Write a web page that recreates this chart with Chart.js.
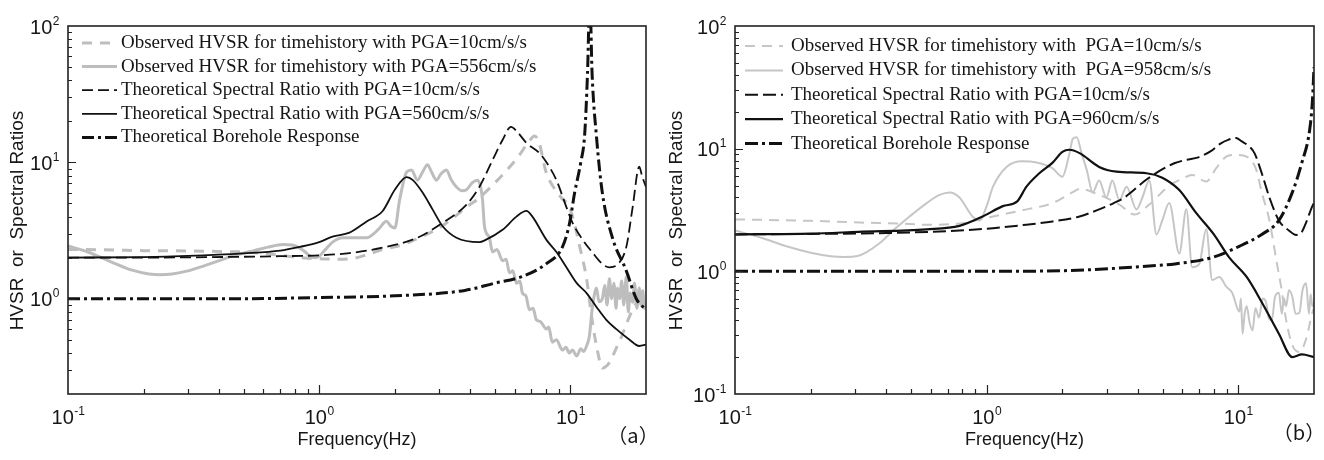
<!DOCTYPE html>
<html>
<head>
<meta charset="utf-8">
<script src="https://cdn.jsdelivr.net/npm/chart.js@4.4.0/dist/chart.umd.min.js"></script>
<style>
  body { margin: 0; background: #fff; }
  .wrap { display: flex; width: 1324px; height: 460px; }
  canvas { display: block; }
</style>
</head>
<body>
<div class="wrap">
  <canvas id="chartA" width="662" height="460"></canvas>
  <canvas id="chartB" width="662" height="460"></canvas>
</div>
<script>
// ---- tick labels (powers of ten) ----
const xTickExp = [-1, 0, 1];
const yTickExpA = [0, 1, 2];
const yTickExpB = [-1, 0, 1, 2];
const mantissas = [1, 2, 3, 4, 5, 6, 7, 8, 9];

// ---- panel (a) ----
const labelsA = [
  "Observed HVSR for timehistory with PGA=10cm/s/s",
  "Observed HVSR for timehistory with PGA=556cm/s/s",
  "Theoretical Spectral Ratio with PGA=10cm/s/s",
  "Theoretical Spectral Ratio with PGA=560cm/s/s",
  "Theoretical Borehole Response",
];
const aObs10F = [0.1, 0.15, 0.2, 0.3, 0.4, 0.5, 0.6, 0.7, 0.8, 0.9, 1.0, 1.15, 1.32, 1.55, 1.79, 2.0, 2.29, 2.6, 3.0, 3.4, 3.86, 4.34, 4.9, 5.5, 6.2, 6.8, 7.2, 7.5, 8.0, 8.6, 9.2, 9.9, 10.4, 10.9, 11.6, 12.2, 12.8, 13.4, 14.3, 15.2, 16.0, 16.7, 17.8, 18.8, 20];
const aObs10V = [2.3, 2.28, 2.25, 2.24, 2.22, 2.2, 2.15, 2.08, 2.02, 1.98, 1.96, 1.95, 1.96, 2.1, 2.3, 2.4, 2.6, 2.9, 3.3, 3.9, 4.7, 5.5, 6.8, 8.5, 11, 14, 15.6, 14, 8.5, 6.5, 5.5, 4.7, 3.5, 2.4, 1.4, 0.7, 0.42, 0.31, 0.34, 0.43, 0.53, 0.65, 0.85, 1.0, 1.1];
const aObs556F = [0.1, 0.12, 0.15, 0.18, 0.21, 0.232, 0.26, 0.3, 0.35, 0.4, 0.45, 0.5, 0.55, 0.62, 0.72, 0.78, 0.837, 0.88, 0.917, 0.96, 1.0, 1.06, 1.13, 1.24, 1.4, 1.55, 1.65, 1.74, 1.85, 1.93, 2.0, 2.09, 2.23, 2.33, 2.46, 2.58, 2.7, 2.8, 2.93, 3.05, 3.21, 3.35, 3.52, 3.7, 3.86, 4.07, 4.27, 4.4, 4.47, 4.55, 4.76, 4.9, 5.1, 5.37, 5.55, 5.72, 5.9, 6.1, 6.3, 6.44, 6.65, 6.87, 7.1, 7.32, 7.6, 8.03, 8.2, 8.47, 8.8, 9.29, 9.6, 9.9, 10.2, 10.6, 11.0, 11.3, 11.6, 11.9, 12.2, 12.5, 12.7, 13.0, 13.4, 13.7, 14.0, 14.3, 14.6, 14.9, 15.2, 15.4, 15.7, 16.0, 16.3, 16.7, 17.0, 17.3, 17.7, 18.0, 18.4, 18.8, 19.1, 19.4, 19.7, 20];
const aObs556V = [2.44, 2.2, 1.85, 1.62, 1.52, 1.5, 1.52, 1.6, 1.75, 1.9, 2.05, 2.16, 2.25, 2.38, 2.5, 2.48, 2.35, 2.2, 2.05, 2.0, 2.05, 2.3, 2.6, 2.8, 2.8, 2.8, 3.0, 3.3, 3.7, 3.4, 3.3, 5.3, 8.5, 8.8, 7.4, 8.5, 9.6, 8.5, 7.4, 8.2, 8.8, 7.5, 6.6, 6.2, 6.3, 7.1, 7.4, 6.5, 5.3, 3.4, 2.8, 2.2, 2.3, 1.9, 1.95, 1.55, 1.6, 1.3, 1.35, 1.1, 1.05, 0.83, 0.85, 0.7, 0.68, 0.6, 0.62, 0.48, 0.5, 0.42, 0.44, 0.4, 0.42, 0.38, 0.43, 0.41, 0.45, 0.53, 0.83, 1.1, 1.2, 0.95, 1.0, 1.25, 0.9, 1.4, 1.0, 1.3, 0.85, 1.2, 1.0, 1.35, 0.9, 1.45, 0.8, 1.1, 0.94, 1.3, 0.85, 1.2, 0.9, 1.15, 0.85, 0.94];
const aTsr10F = [0.1, 0.2, 0.3, 0.5, 0.7, 1.0, 1.32, 1.79, 2.46, 3.1, 3.86, 4.34, 4.9, 5.37, 5.8, 6.15, 6.68, 7.53, 8.03, 8.8, 9.64, 10.2, 11.2, 12.2, 13.4, 14.3, 15.4, 16.7, 17.7, 18.8, 19.3, 20];
const aTsr10V = [2.0, 2.0, 2.01, 2.03, 2.05, 2.08, 2.16, 2.37, 2.8, 3.6, 4.9, 6.6, 10.4, 14.6, 18.2, 16.7, 13.9, 11.7, 10, 7.4, 4.7, 3.6, 2.7, 2.2, 1.8, 1.7, 1.78, 2.4, 4.7, 9.3, 7.9, 6.6];
const aTsr560F = [0.1, 0.2, 0.3, 0.5, 0.7, 0.84, 1.0, 1.13, 1.32, 1.55, 1.79, 2.0, 2.23, 2.36, 2.58, 2.83, 3.1, 3.52, 4.34, 4.6, 5.37, 6.1, 6.68, 7.06, 8.03, 8.8, 9.64, 10.6, 11.6, 12.7, 13.9, 15.2, 17.2, 18.8, 20];
const aTsr560V = [2.0, 2.02, 2.06, 2.15, 2.25, 2.4, 2.6, 2.85, 3.05, 3.7, 4.4, 6.3, 7.8, 7.4, 6.0, 4.5, 3.4, 2.8, 2.6, 2.7, 3.2, 4.0, 4.4, 4.0, 2.7, 2.2, 1.7, 1.3, 1.1, 0.87, 0.7, 0.6, 0.5, 0.45, 0.46];
const aBoreF = [0.1, 0.3, 0.5, 1.0, 2.0, 3.8, 5.0, 6.4, 8.0, 9.3, 9.9, 10.4, 11.0, 11.4, 11.7, 11.95, 12.2, 12.7, 13.4, 14.7, 16.7, 18.3, 20];
const aBoreV = [1.0, 1.0, 1.0, 1.02, 1.05, 1.15, 1.3, 1.45, 1.8, 2.4, 3.5, 6.0, 10, 16, 45, 160, 45, 15.5, 6.0, 2.8, 1.6, 1.0, 0.83];

// ---- panel (b) ----
const labelsB = [
  "Observed HVSR for timehistory with  PGA=10cm/s/s",
  "Observed HVSR for timehistory with  PGA=958cm/s/s",
  "Theoretical Spectral Ratio with PGA=10cm/s/s",
  "Theoretical Spectral Ratio with PGA=960cm/s/s",
  "Theoretical Borehole Response",
];
const bObs10F = [0.1, 0.2, 0.313, 0.45, 0.578, 0.782, 1.06, 1.44, 1.83, 2.19, 2.34, 2.8, 3.37, 3.87, 4.43, 5.32, 6.0, 6.56, 7.46, 8.2, 8.96, 9.82, 10.8, 11.8, 12.4, 13.3, 14.2, 14.8, 15.5, 16.4, 17.5, 18.6, 19.7, 20];
const bObs10V = [2.65, 2.58, 2.5, 2.45, 2.4, 2.45, 2.8, 3.2, 3.6, 4.4, 4.7, 4.2, 3.5, 2.9, 3.5, 5.0, 5.7, 6.1, 5.4, 7.0, 8.6, 8.9, 8.6, 6.7, 4.4, 2.6, 1.2, 0.75, 0.4, 0.25, 0.22, 0.28, 0.46, 0.5];
const bObs958F = [0.1, 0.13, 0.16, 0.2, 0.24, 0.27, 0.31, 0.376, 0.43, 0.494, 0.578, 0.65, 0.713, 0.78, 0.879, 0.938, 1.0, 1.06, 1.2, 1.39, 1.58, 1.83, 2.0, 2.13, 2.2, 2.28, 2.39, 2.5, 2.64, 2.8, 2.99, 3.16, 3.37, 3.6, 3.94, 4.16, 4.43, 4.73, 4.99, 5.32, 5.83, 6.22, 6.56, 7.0, 7.46, 7.88, 8.41, 8.96, 9.46, 10.1, 10.25, 10.4, 10.6, 10.8, 11.1, 11.4, 11.7, 12.1, 12.5, 12.9, 13.2, 13.6, 14.0, 14.5, 14.9, 15.2, 15.5, 15.9, 16.4, 16.9, 17.5, 18.0, 18.6, 19.1, 19.4, 19.7, 20];
const bObs958V = [2.15, 1.85, 1.6, 1.42, 1.33, 1.31, 1.34, 1.7, 2.2, 2.8, 3.6, 4.2, 4.4, 4.0, 2.8, 2.6, 3.4, 4.9, 7.1, 7.9, 7.7, 6.9, 5.9, 9, 12.0, 12.4, 9, 6.7, 4.4, 5.5, 4.0, 5.5, 3.8, 4.9, 3.2, 4.0, 5.5, 2.0, 2.6, 3.6, 1.4, 3.2, 1.08, 1.15, 2.2, 0.85, 0.9, 0.75, 0.67, 0.47, 0.6, 0.31, 0.45, 0.52, 0.38, 0.33, 0.5, 0.42, 0.6, 0.56, 0.42, 0.4, 0.62, 0.67, 0.45, 0.6, 0.52, 0.7, 0.62, 0.45, 0.46, 0.7, 0.8, 0.45, 0.65, 0.52, 0.55];
const bTsr10F = [0.1, 0.2, 0.4, 0.78, 1.06, 1.44, 1.83, 2.34, 2.8, 3.2, 3.53, 4.32, 5.0, 5.57, 6.2, 6.94, 7.81, 8.5, 9.12, 9.8, 10.3, 11.0, 11.6, 12.4, 13.3, 14.5, 15.9, 17.0, 17.9, 18.6, 19.7, 20];
const bTsr10V = [2.0, 2.02, 2.05, 2.15, 2.25, 2.4, 2.55, 2.8, 3.2, 3.6, 4.0, 5.6, 6.8, 7.6, 8.1, 8.5, 9.6, 11.0, 11.8, 12.2, 11.5, 10.5, 9.2, 6.3, 4.0, 2.6, 2.15, 1.98, 2.1, 2.5, 3.4, 3.6];
const bTsr960F = [0.1, 0.2, 0.31, 0.578, 0.78, 0.965, 1.16, 1.32, 1.44, 1.62, 1.83, 2.0, 2.13, 2.34, 2.8, 3.28, 4.32, 4.99, 5.83, 6.8, 8.0, 9.2, 10.8, 12.4, 14.5, 16.4, 17.9, 20];
const bTsr960V = [2.0, 2.03, 2.1, 2.2, 2.35, 2.8, 3.4, 3.7, 4.9, 6.3, 7.7, 9.4, 9.8, 9.2, 7.1, 6.5, 6.3, 5.8, 4.6, 3.0, 2.0, 1.3, 0.9, 0.56, 0.31, 0.2, 0.21, 0.2];
const bBoreF = [0.1, 0.5, 1.0, 2.3, 4.3, 5.6, 7.9, 10.1, 12.4, 14.5, 16.4, 17.9, 19.2, 19.7, 20];
const bBoreV = [1.0, 1.0, 1.0, 1.02, 1.1, 1.15, 1.3, 1.6, 2.0, 2.6, 4.4, 7.7, 14, 24, 46];

const SANS = '"Liberation Sans", Arial, sans-serif';
const SERIF = '"Liberation Serif", "Times New Roman", serif';
const INK = "#161616";

function toPoints(f, v) {
  return f.map((x, i) => ({ x: x, y: v[i] }));
}

function drawPower(ctx, exp, x, cy, align) {
  const base = "10";
  const sup = String(exp);
  ctx.font = "20px " + SANS;
  const wb = ctx.measureText(base).width;
  ctx.font = "12px " + SANS;
  const ws = ctx.measureText(sup).width;
  const left = align === "center" ? x - (wb + ws) / 2 : x - wb - ws;
  ctx.textAlign = "left";
  ctx.textBaseline = "alphabetic";
  ctx.font = "20px " + SANS;
  ctx.fillText(base, left, cy + 7);
  ctx.font = "12px " + SANS;
  ctx.fillText(sup, left + wb + 0.5, cy - 2);
}

// frame, inward ticks, power-of-ten labels, legend and panel tag
const decorations = {
  id: "decorations",
  afterDraw(chart, args, opts) {
    const ctx = chart.ctx;
    const area = chart.chartArea;
    const xs = chart.scales.x;
    const ys = chart.scales.y;
    ctx.save();

    // inward tick marks
    ctx.strokeStyle = "#222";
    ctx.lineWidth = 1.2;
    ctx.beginPath();
    for (let e = Math.floor(Math.log10(xs.min)); e <= Math.floor(Math.log10(xs.max)); e++) {
      mantissas.forEach((m) => {
        const v = m * Math.pow(10, e);
        if (v <= xs.min * 1.001 || v >= xs.max * 0.999) return;
        const px = Math.round(xs.getPixelForValue(v)) + 0.5;
        ctx.moveTo(px, area.bottom);
        ctx.lineTo(px, area.bottom - (m === 1 ? 9 : 5));
      });
    }
    for (let e = Math.floor(Math.log10(ys.min) + 1e-9); e <= Math.floor(Math.log10(ys.max) + 1e-9); e++) {
      mantissas.forEach((m) => {
        const v = m * Math.pow(10, e);
        if (v <= ys.min * 1.001 || v >= ys.max * 0.999) return;
        const py = Math.round(ys.getPixelForValue(v)) + 0.5;
        ctx.moveTo(area.left, py);
        ctx.lineTo(area.left + (m === 1 ? 8 : 4), py);
      });
    }
    ctx.stroke();

    // plot frame
    ctx.lineWidth = 1.6;
    ctx.strokeRect(area.left, area.top, area.right - area.left, area.bottom - area.top);

    // tick labels
    ctx.fillStyle = INK;
    xTickExp.forEach((e) => {
      drawPower(ctx, e, xs.getPixelForValue(Math.pow(10, e)), area.bottom + 23, "center");
    });
    opts.yExp.forEach((e) => {
      drawPower(ctx, e, area.left - opts.yLabelGap, ys.getPixelForValue(Math.pow(10, e)) + 0.5, "right");
    });

    // legend from the datasets
    const lg = opts.legend;
    ctx.font = "19px " + SERIF;
    ctx.textBaseline = "middle";
    ctx.textAlign = "left";
    chart.data.datasets.forEach((ds, i) => {
      const y = lg.y0 + i * lg.step;
      ctx.save();
      ctx.strokeStyle = ds.borderColor;
      ctx.lineWidth = ds.borderWidth;
      ctx.setLineDash(ds.borderDash || []);
      ctx.beginPath();
      ctx.moveTo(lg.x0, y);
      ctx.lineTo(lg.x1, y);
      ctx.stroke();
      ctx.restore();
      ctx.fillStyle = INK;
      ctx.fillText(ds.label, lg.tx, y);
    });

    // panel tag
    ctx.font = '20px "Noto Sans CJK SC", ' + SANS;
    ctx.textAlign = "center";
    ctx.textBaseline = "middle";
    ctx.fillText(opts.tag.text, opts.tag.x, opts.tag.y);
    ctx.restore();
  },
};

function makeChart(id, labels, series, styles, p) {
  const datasets = series.map((s, i) => Object.assign({
    label: labels[i],
    data: toPoints(s[0], s[1]),
    pointRadius: 0,
    fill: false,
    cubicInterpolationMode: "monotone",
  }, styles[i]));

  return new Chart(document.getElementById(id).getContext("2d"), {
    type: "line",
    data: { datasets: datasets },
    options: {
      responsive: false,
      animation: false,
      events: [],
      layout: { padding: { top: 26, right: p.rightPad, left: 0, bottom: 0 } },
      plugins: {
        legend: { display: false },
        tooltip: { enabled: false },
        decorations: p.deco,
      },
      scales: {
        x: {
          type: "logarithmic",
          min: 0.1,
          max: 20,
          grid: { display: false, drawTicks: false },
          border: { display: false },
          ticks: { display: false },
          title: {
            display: true,
            text: "Frequency(Hz)",
            color: INK,
            font: { family: SANS, size: 18 },
            padding: { top: 0, bottom: 9 },
          },
          afterFit: (scale) => { scale.height = 66; },
        },
        y: {
          type: "logarithmic",
          min: p.yMin,
          max: 100,
          grid: { display: false, drawTicks: false },
          border: { display: false },
          ticks: { display: false },
          title: {
            display: true,
            // trailing spaces nudge the rotated title down a little, as in the source figure
            text: "HVSR  or  Spectral Ratios    ",
            color: INK,
            font: { family: SANS, size: 19 },
            padding: { top: p.yTitlePad, bottom: 0 },
          },
          afterFit: (scale) => { scale.width = p.leftWidth; },
        },
      },
    },
    plugins: [decorations],
  });
}

const grayA = "#bdbdbd";
const grayB = "#c6c6c6";

makeChart("chartA", labelsA,
  [[aObs10F, aObs10V], [aObs556F, aObs556V], [aTsr10F, aTsr10V], [aTsr560F, aTsr560V], [aBoreF, aBoreV]],
  [
    { borderColor: grayA, borderWidth: 3, borderDash: [10, 8], order: 3 },
    { borderColor: grayA, borderWidth: 3, order: 3 },
    { borderColor: "#111", borderWidth: 1.8, borderDash: [11, 5], order: 1 },
    { borderColor: "#111", borderWidth: 1.8, order: 1 },
    { borderColor: "#111", borderWidth: 3, borderDash: [12, 4, 3, 4], order: 1 },
  ],
  {
    yMin: 0.2, leftWidth: 68, rightPad: 16, yTitlePad: 6,
    deco: {
      yExp: yTickExpA, yLabelGap: 9,
      legend: { x0: 82, x1: 117, tx: 121, y0: 43, step: 23.6 },
      tag: { text: "（a）", x: 633, y: 435 },
    },
  });

makeChart("chartB", labelsB,
  [[bObs10F, bObs10V], [bObs958F, bObs958V], [bTsr10F, bTsr10V], [bTsr960F, bTsr960V], [bBoreF, bBoreV]],
  [
    { borderColor: grayB, borderWidth: 2, borderDash: [10, 7], order: 3 },
    { borderColor: grayB, borderWidth: 2, order: 3 },
    { borderColor: "#111", borderWidth: 2, borderDash: [13, 5], order: 1 },
    { borderColor: "#111", borderWidth: 2.2, order: 1 },
    { borderColor: "#111", borderWidth: 3, borderDash: [13, 4, 3, 4], order: 1 },
  ],
  {
    yMin: 0.1, leftWidth: 73, rightPad: 10, yTitlePad: 3,
    deco: {
      yExp: yTickExpB, yLabelGap: 9,
      legend: { x0: 83, x1: 121, tx: 129, y0: 46, step: 24.4 },
      tag: { text: "（b）", x: 637, y: 432 },
    },
  });
</script>
</body>
</html>
